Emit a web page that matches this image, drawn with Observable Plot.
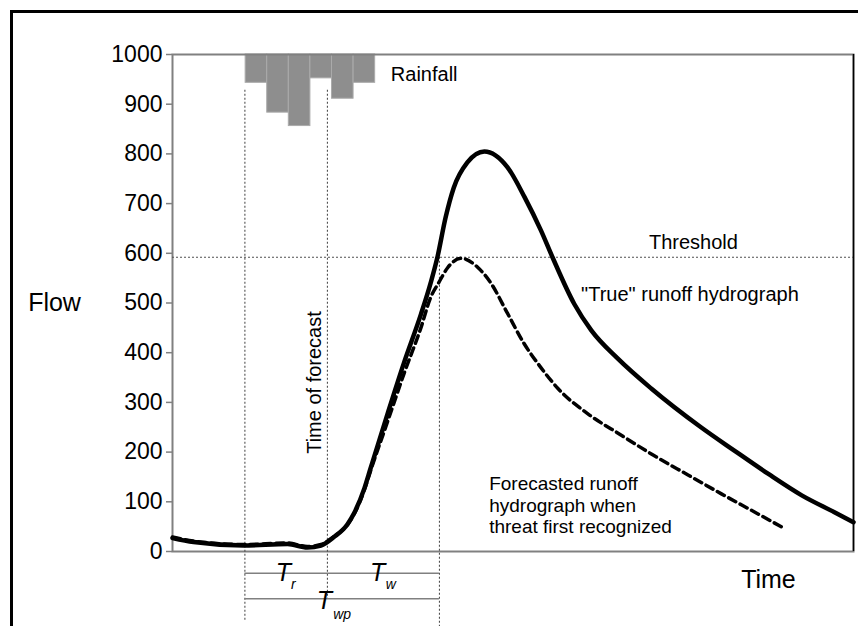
<!DOCTYPE html>
<html><head><meta charset="utf-8">
<script src="https://cdn.jsdelivr.net/npm/d3@7"></script>
<script src="https://cdn.jsdelivr.net/npm/@observablehq/plot@0.6"></script>
<style>
html,body{margin:0;padding:0;background:#fff;overflow:hidden;}
#wrap{position:relative;width:858px;height:626px;overflow:hidden;}
#border{position:absolute;left:10px;top:10px;width:1000px;height:1000px;border-left:3px solid #000;border-top:3px solid #000;}
#chart{position:absolute;left:0;top:0;}
</style></head><body>
<div id="wrap"><div id="border"></div><div id="chart"></div></div>
<script>
// Observed ("true") runoff hydrograph
const timeTrue = [0, 3.1, 10.4, 16.9, 19.8, 21.8, 23.7, 25.7, 26.7, 28.2, 29.1, 31.6, 34.0, 36.5, 37.9, 38.9, 40.1, 41.3, 43.3, 45.8, 49.2, 51.7, 54.1, 55.8, 59.0, 61.5, 65.4, 70.3, 77.6, 82.5, 87.5, 92.4, 97.2, 100];
const flowTrue = [27, 19, 12, 15, 8, 12, 29, 55, 78, 128, 168, 278, 380, 478, 540, 592, 672, 732, 783, 805, 773, 713, 646, 592, 498, 445, 388, 328, 250, 203, 156, 113, 79, 59];
// Forecasted runoff hydrograph when threat first recognized
const timeFc = [0, 3.1, 10.4, 16.9, 19.8, 21.8, 23.7, 25.7, 26.7, 28.2, 29.1, 31.6, 34.0, 36.5, 37.9, 39.1, 40.4, 42.4, 44.8, 46.8, 49.2, 51.6, 54.1, 56.6, 61.0, 65.9, 70.7, 75.7, 80.6, 85.4, 89.9];
const flowFc = [29, 21, 14, 17, 10, 14, 30, 54, 76, 125, 163, 262, 358, 451, 511, 541, 571, 590, 572, 539, 479, 419, 370, 328, 277, 234, 193, 154, 116, 80, 46];
// Rainfall hyetograph (hanging from top), start times and depths
const rainStart = [10.74, 13.91, 17.08, 20.25, 23.42, 26.59];
const rainWidth = 3.17;
const rainDepth = [57, 117, 144, 48, 89, 57];
// Key times: rain start, time of forecast, threshold crossing
const keyTimes = [10.63, 22.75, 39.2];
const threshold = 592;
const yTicks = [0, 100, 200, 300, 400, 500, 600, 700, 800, 900, 1000];
const spanNames = ["r", "w", "wp"];

const trueData = timeTrue.map((t, i) => ({t, v: flowTrue[i]}));
const fcData = timeFc.map((t, i) => ({t, v: flowFc[i]}));
const rain = rainStart.map((t, i) => ({t0: t, t1: t + rainWidth, top: 1000, bottom: 1000 - rainDepth[i]}));

const FONT = "'Liberation Sans', Arial, Helvetica, sans-serif";
const dotted = {stroke: "#505050", strokeWidth: 1.1, strokeDasharray: "2,2"};

const plot = Plot.plot({
  width: 858, height: 626,
  marginLeft: 172, marginRight: 5, marginTop: 54, marginBottom: 75,
  x: {domain: [0, 100], axis: null},
  y: {domain: [0, 1000], axis: null},
  style: {fontFamily: FONT, background: "transparent", color: "black", overflow: "visible"},
  marks: [
    Plot.rect(rain, {x1: "t0", x2: "t1", y1: "top", y2: "bottom", fill: "#8e8e8e", stroke: "#ababab", strokeWidth: 1}),
    Plot.frame({stroke: "#808080", strokeWidth: 2}),
    Plot.ruleX([100], {stroke: "#000", strokeWidth: 1.5}),
    Plot.ruleY([threshold], {x1: 0, x2: 100, ...dotted}),
    Plot.ruleX([keyTimes[0]], {y1: 928, y2: -139, ...dotted}),
    Plot.ruleX([keyTimes[1]], {y1: 928, y2: -95, ...dotted}),
    Plot.ruleX([keyTimes[2]], {y1: threshold, y2: -151, ...dotted}),
    Plot.ruleY([-43.7], {x1: keyTimes[0], x2: keyTimes[2], stroke: "#808080", strokeWidth: 1.5}),
    Plot.ruleY([-95], {x1: keyTimes[0], x2: keyTimes[2], stroke: "#808080", strokeWidth: 1.5}),
    Plot.line(trueData, {x: "t", y: "v", curve: "monotone-x", stroke: "#000", strokeWidth: 4.5}),
    Plot.line(fcData, {x: "t", y: "v", curve: "monotone-x", stroke: "#000", strokeWidth: 3.5, strokeDasharray: "8,5"}),
    Plot.axisY({ticks: yTicks, tickFormat: d => String(d), tickSize: 6, tickPadding: 4, fontSize: 23, stroke: "#808080", strokeWidth: 1.5, fill: "black", label: null}),
    Plot.text(["Flow"], {x: -21.2, y: 483, text: d => d, textAnchor: "start", lineAnchor: "bottom", fontSize: 25}),
    Plot.text(["Time"], {x: 83.5, y: -74.4, text: d => d, textAnchor: "start", lineAnchor: "bottom", fontSize: 25}),
    Plot.text(["Rainfall"], {x: 32.06, y: 947, text: d => d, textAnchor: "start", lineAnchor: "bottom", fontSize: 20}),
    Plot.text(["Threshold"], {x: 69.96, y: 609, text: d => d, textAnchor: "start", lineAnchor: "bottom", fontSize: 20}),
    Plot.text(["\"True\" runoff hydrograph"], {x: 60.0, y: 505, text: d => d, textAnchor: "start", lineAnchor: "bottom", fontSize: 20}),
    Plot.text(["Forecasted runoff\nhydrograph when\nthreat first recognized"], {x: 46.5, y: 37.6, text: d => d, textAnchor: "start", lineAnchor: "bottom", lineHeight: 1.12, fontSize: 19}),
    Plot.text(["Time of forecast"], {x: 21.76, y: 340, text: d => d, rotate: -90, textAnchor: "middle", lineAnchor: "bottom", fontSize: 20}),
    // T labels with subscripts
    Plot.text(["T"], {x: 15.15, y: -58.4, text: d => d, textAnchor: "start", lineAnchor: "bottom", fontSize: 25, fontStyle: "italic"}),
    Plot.text([spanNames[0]], {x: 17.4, y: -75, text: d => d, textAnchor: "start", lineAnchor: "bottom", fontSize: 14, fontStyle: "italic"}),
    Plot.text(["T"], {x: 29.0, y: -58.4, text: d => d, textAnchor: "start", lineAnchor: "bottom", fontSize: 25, fontStyle: "italic"}),
    Plot.text([spanNames[1]], {x: 31.3, y: -75, text: d => d, textAnchor: "start", lineAnchor: "bottom", fontSize: 14, fontStyle: "italic"}),
    Plot.text(["T"], {x: 21.2, y: -115.3, text: d => d, textAnchor: "start", lineAnchor: "bottom", fontSize: 25, fontStyle: "italic"}),
    Plot.text([spanNames[2]], {x: 23.6, y: -135.4, text: d => d, textAnchor: "start", lineAnchor: "bottom", fontSize: 14, fontStyle: "italic"})
  ]
});
document.getElementById("chart").appendChild(plot);
</script></body></html>
